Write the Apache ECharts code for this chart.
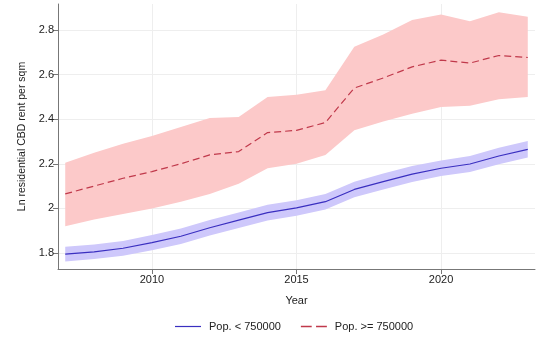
<!DOCTYPE html>
<html>
<head>
<meta charset="utf-8">
<script src="https://cdn.jsdelivr.net/npm/echarts@6/dist/echarts.min.js"></script>
<style>
  html, body { margin: 0; padding: 0; background: #fff; }
  #chart { width: 537px; height: 340px; }
</style>
</head>
<body>
<div id="chart"></div>
<script>
// Years of observation
const years = [2007, 2008, 2009, 2010, 2011, 2012, 2013, 2014, 2015, 2016, 2017, 2018, 2019, 2020, 2021, 2022, 2023];

// Cities with population below 750000: mean and 95% band
const smallMean  = [1.795, 1.805, 1.821, 1.846, 1.875, 1.913, 1.947, 1.981, 2.002, 2.030, 2.085, 2.120, 2.154, 2.180, 2.199, 2.235, 2.265];
const smallLower = [1.762, 1.773, 1.788, 1.812, 1.840, 1.878, 1.912, 1.946, 1.967, 1.995, 2.050, 2.085, 2.118, 2.145, 2.163, 2.198, 2.228];
const smallUpper = [1.828, 1.838, 1.854, 1.880, 1.910, 1.948, 1.982, 2.016, 2.037, 2.065, 2.120, 2.156, 2.190, 2.215, 2.235, 2.272, 2.302];

// Cities with population of 750000 or more: mean and 95% band
const largeMean  = [2.065, 2.100, 2.135, 2.165, 2.200, 2.240, 2.255, 2.340, 2.350, 2.385, 2.540, 2.585, 2.635, 2.665, 2.652, 2.686, 2.677];
const largeLower = [1.920, 1.950, 1.975, 2.000, 2.030, 2.065, 2.110, 2.180, 2.200, 2.240, 2.350, 2.390, 2.425, 2.455, 2.460, 2.490, 2.500];
const largeUpper = [2.205, 2.250, 2.290, 2.325, 2.365, 2.405, 2.410, 2.500, 2.510, 2.530, 2.725, 2.780, 2.845, 2.870, 2.840, 2.880, 2.860];

// Axis ticks
const xTicks = [2010, 2015, 2020];
const yTicks = [1.8, 2.0, 2.2, 2.4, 2.6, 2.8];

const seriesNames = ['Pop. < 750000', 'Pop. >= 750000'];

const FONT = '"Liberation Sans", Arial, sans-serif';
const GRID_COLOR = '#eeeeee';

function bandSeries(lower, upper, color) {
  return {
    type: 'custom',
    silent: true,
    z: 2,
    data: years.map((y, i) => [y, lower[i], upper[i]]),
    encode: { x: 0, y: [1, 2] },
    renderItem: function (params, api) {
      if (params.dataIndex !== 0) return null;
      const top = [], bottom = [];
      for (let i = 0; i < years.length; i++) {
        top.push(api.coord([years[i], upper[i]]));
        bottom.push(api.coord([years[i], lower[i]]));
      }
      return {
        type: 'polygon',
        shape: { points: top.concat(bottom.reverse()) },
        style: { fill: color }
      };
    }
  };
}

// Gridlines only at the labelled ticks, kept beneath the bands
const gridLines = {
  type: 'line',
  silent: true,
  z: 0,
  data: [],
  markLine: {
    silent: true,
    z: 0,
    symbol: ['none', 'none'],
    label: { show: false },
    lineStyle: { color: GRID_COLOR, width: 1, type: 'solid' },
    data: xTicks.map(v => ({ xAxis: v })).concat(yTicks.map(v => ({ yAxis: v })))
  }
};

const chart = echarts.init(document.getElementById('chart'), null, { renderer: 'canvas' });

chart.setOption({
  animation: false,
  backgroundColor: '#ffffff',
  textStyle: { fontFamily: FONT },
  grid: { left: 58, right: 2, top: 4, bottom: 71, containLabel: false },
  legend: {
    bottom: 3,
    left: 170,
    itemWidth: 26,
    itemHeight: 10,
    itemGap: 20,
    textStyle: { fontFamily: FONT, fontSize: 11, color: '#222', padding: [0, 0, 0, 3] },
    data: [
      { name: seriesNames[0], icon: 'path://M0,4 L26,4 L26,5.2 L0,5.2 Z', itemStyle: { color: '#3a2fc0' } },
      { name: seriesNames[1], icon: 'path://M0,4 L10,4 L10,5.2 L0,5.2 Z M14,4 L24,4 L24,5.2 L14,5.2 Z', itemStyle: { color: '#c0394b' } }
    ]
  },
  xAxis: {
    type: 'value',
    min: 2006.75,
    max: 2023.25,
    name: 'Year',
    nameLocation: 'middle',
    nameGap: 26,
    nameTextStyle: { fontFamily: FONT, fontSize: 11, color: '#222' },
    axisLine: { lineStyle: { color: '#777', width: 1 } },
    axisTick: { show: true, length: 5, customValues: xTicks, lineStyle: { color: '#777' } },
    axisLabel: {
      customValues: xTicks, margin: 5, fontSize: 11, color: '#222', fontFamily: FONT,
      formatter: v => String(Math.round(v))
    },
    splitLine: { show: false }
  },
  yAxis: {
    type: 'value',
    min: 1.728,
    max: 2.917,
    name: 'Ln residential CBD rent per sqm',
    nameLocation: 'middle',
    nameGap: 30,
    nameRotate: 90,
    nameTextStyle: { fontFamily: FONT, fontSize: 10.5, color: '#222' },
    axisLine: { show: true, lineStyle: { color: '#777', width: 1 } },
    axisTick: { show: true, length: 5, customValues: yTicks, lineStyle: { color: '#777' } },
    axisLabel: {
      customValues: yTicks, margin: 4, fontSize: 11, color: '#222', fontFamily: FONT,
      formatter: v => String(parseFloat(v.toFixed(2)))
    },
    splitLine: { show: false }
  },
  series: [
    gridLines,
    bandSeries(largeLower, largeUpper, '#fcc9c9'),
    bandSeries(smallLower, smallUpper, '#cec8fb'),
    {
      name: seriesNames[0],
      type: 'line',
      z: 3,
      symbol: 'none',
      data: years.map((y, i) => [y, smallMean[i]]),
      lineStyle: { color: '#3a2fc0', width: 1.2 },
      itemStyle: { color: '#3a2fc0' }
    },
    {
      name: seriesNames[1],
      type: 'line',
      z: 3,
      symbol: 'none',
      data: years.map((y, i) => [y, largeMean[i]]),
      lineStyle: { color: '#c0394b', width: 1.2, type: [7, 4] },
      itemStyle: { color: '#c0394b' }
    }
  ]
});
</script>
</body>
</html>
